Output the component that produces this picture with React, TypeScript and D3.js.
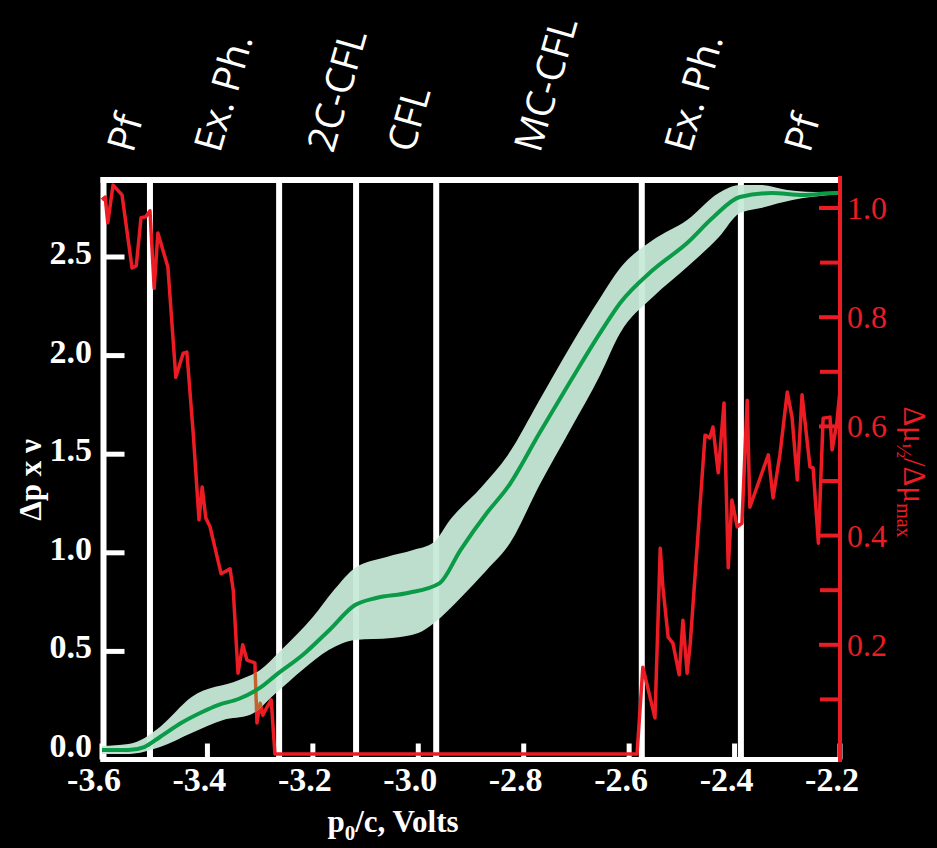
import React from "react";
import * as d3 from "d3";

// Axis ticks
const xTicks = [-3.6, -3.4, -3.2, -3.0, -2.8, -2.6, -2.4, -2.2];
const leftTicks = [0.0, 0.5, 1.0, 1.5, 2.0, 2.5];
const rightMajor = [0.2, 0.4, 0.6, 0.8, 1.0];
const rightMinor = [0.1, 0.3, 0.5, 0.7, 0.9];

// Phase boundaries and phase names
const boundaries = [-3.509, -3.264, -3.118, -2.966, -2.576, -2.388];
const phaseLabels = ["Pf", "Ex. Ph.", "2C-CFL", "CFL", "MC-CFL", "Ex. Ph.", "Pf"];
const phaseLabelX = [-3.541, -3.376, -3.162, -3.01, -2.769, -2.484, -2.257];

// Δp x ν : mean curve
const greenX = [-3.6, -3.55, -3.52, -3.49, -3.45, -3.41, -3.38, -3.34, -3.3, -3.27, -3.22, -3.17, -3.12, -3.08, -3.02, -2.96, -2.92, -2.87, -2.83, -2.77, -2.71, -2.655, -2.617, -2.555, -2.49, -2.44, -2.39, -2.33, -2.27, -2.21, -2.2];
const greenMid = [0.0, 0.0, 0.015, 0.066, 0.137, 0.193, 0.228, 0.26, 0.316, 0.38, 0.48, 0.605, 0.735, 0.771, 0.796, 0.845, 1.014, 1.202, 1.334, 1.608, 1.876, 2.115, 2.267, 2.434, 2.571, 2.703, 2.804, 2.824, 2.814, 2.824, 2.824];

// Δp x ν : uncertainty band edges
const upperX = [-3.6, -3.55, -3.52, -3.49, -3.43, -3.34, -3.3, -3.26, -3.2, -3.16, -3.12, -3.06, -3.01, -2.97, -2.94, -2.88, -2.83, -2.77, -2.71, -2.655, -2.617, -2.555, -2.49, -2.43, -2.39, -2.35, -2.3, -2.23, -2.2];
const upperY = [0.02, 0.03, 0.06, 0.117, 0.269, 0.355, 0.406, 0.507, 0.674, 0.811, 0.923, 0.979, 1.014, 1.055, 1.166, 1.334, 1.496, 1.775, 2.054, 2.292, 2.444, 2.586, 2.688, 2.825, 2.865, 2.865, 2.84, 2.829, 2.834];
const lowerX = [-3.6, -3.55, -3.49, -3.43, -3.37, -3.32, -3.27, -3.22, -3.17, -3.12, -3.05, -3.0, -2.97, -2.92, -2.87, -2.826, -2.77, -2.71, -2.655, -2.617, -2.555, -2.49, -2.43, -2.39, -2.35, -2.29, -2.22, -2.2];
const lowerY = [-0.02, -0.02, 0.015, 0.086, 0.152, 0.177, 0.289, 0.406, 0.507, 0.558, 0.568, 0.593, 0.644, 0.771, 0.913, 1.05, 1.344, 1.633, 1.902, 2.115, 2.297, 2.449, 2.6, 2.723, 2.749, 2.789, 2.814, 2.819];

// Δμ½/Δμmax (right axis)
const redX = [-3.6, -3.594, -3.589, -3.579, -3.562, -3.543, -3.535, -3.526, -3.517, -3.509, -3.501, -3.494, -3.475, -3.46, -3.446, -3.439, -3.427, -3.416, -3.41, -3.403, -3.395, -3.374, -3.357, -3.351, -3.342, -3.333, -3.325, -3.31, -3.306, -3.3, -3.295, -3.287, -3.279, -3.272, -2.585, -2.574, -2.551, -2.541, -2.536, -2.526, -2.517, -2.505, -2.498, -2.49, -2.484, -2.456, -2.447, -2.441, -2.431, -2.42, -2.412, -2.405, -2.395, -2.386, -2.376, -2.371, -2.336, -2.327, -2.314, -2.3, -2.291, -2.281, -2.272, -2.257, -2.251, -2.241, -2.232, -2.219, -2.215, -2.206, -2.2];
const redY = [1.015, 1.02, 0.973, 1.042, 1.024, 0.89, 0.894, 0.982, 0.984, 0.995, 0.853, 0.954, 0.892, 0.69, 0.734, 0.736, 0.588, 0.429, 0.489, 0.432, 0.416, 0.33, 0.339, 0.3, 0.148, 0.2, 0.172, 0.167, 0.057, 0.093, 0.071, 0.086, 0.099, 0.0, 0.0, 0.159, 0.066, 0.377, 0.306, 0.214, 0.203, 0.145, 0.245, 0.148, 0.203, 0.584, 0.579, 0.599, 0.515, 0.643, 0.341, 0.465, 0.416, 0.423, 0.648, 0.452, 0.548, 0.469, 0.548, 0.663, 0.617, 0.502, 0.658, 0.526, 0.524, 0.386, 0.615, 0.617, 0.557, 0.606, 0.667];

const W = 937;
const H = 848;
const RED = "#ec1c24";
const SERIF = "'Liberation Serif', 'Times New Roman', serif";
const SANS = "'Open Sans', 'Noto Sans', sans-serif";

export default function App() {
  const x = d3.scaleLinear().domain([-3.6, -2.2]).range([102, 840]);
  const yL = d3.scaleLinear().domain([0, 2.5]).range([750, 257]);
  const yR = d3.scaleLinear().domain([0, 1]).range([754, 208]);

  const top = 180;
  const bottom = 759.5;
  const left = 103.5;
  const right = 840;

  const redPts: [number, number][] = redX.map((v, i) => [x(v), yR(redY[i])]);
  const redPath = d3.line().curve(d3.curveLinear)(redPts) || "";

  const greenPts: [number, number][] = greenX.map((v, i) => [x(v), yL(greenMid[i])]);
  const greenPath = d3.line().curve(d3.curveMonotoneX)(greenPts) || "";

  // band outline: upper edge left-to-right, lower edge right-to-left
  const upPts: [number, number][] = upperX.map((v, i) => [x(v), yL(upperY[i])]);
  const loPts: [number, number][] = lowerX.map((v, i) => [x(v), yL(lowerY[i])]);
  const upPath = d3.line().curve(d3.curveMonotoneX)(upPts) || "";
  // monotone curve needs increasing x, so trace the lower edge mirrored and flip the x coordinates back
  const loMirror = d3.line().curve(d3.curveMonotoneX)(
    loPts.slice().reverse().map(([a, b]) => [-a, b]) as [number, number][]
  ) || "";
  const loPath = loMirror.replace(/(-?\d+\.?\d*(?:e-?\d+)?),(-?\d+\.?\d*(?:e-?\d+)?)/g, (_m, a, b) => `${-parseFloat(a)},${b}`);
  const bandPath = upPath + "L" + loPath.slice(1) + "Z";

  return (
    <div style={{ width: W, height: H, background: "#000" }}>
      <style>{`body{margin:0;background:#000;}`}</style>
      <svg width={W} height={H} style={{ display: "block" }}>
        <rect x={0} y={0} width={W} height={H} fill="#000" />
        <defs>
          <clipPath id="bandClip">
            <path d={bandPath} />
          </clipPath>
        </defs>

        {/* phase boundaries */}
        {boundaries.map((b, i) => (
          <line key={"b" + i} x1={x(b)} x2={x(b)} y1={top} y2={bottom} stroke="#fff" strokeWidth={6} />
        ))}

        {/* frame */}
        <line x1={left - 3} x2={right} y1={top} y2={top} stroke="#fff" strokeWidth={6} />
        <line x1={left - 3} x2={right} y1={bottom} y2={bottom} stroke="#fff" strokeWidth={5} />
        <line x1={left} x2={left} y1={top - 3} y2={bottom + 2.5} stroke="#fff" strokeWidth={6} />

        {/* bottom ticks */}
        {xTicks.map((t, i) => (
          <g key={"xt" + i}>
            <line x1={x(t)} x2={x(t)} y1={bottom} y2={bottom - 16} stroke="#fff" strokeWidth={5} />
            <text x={x(t) - 8} y={791} fill="#fff" fontFamily={SERIF} fontWeight="bold" fontSize={34} textAnchor="middle">
              {t.toFixed(1)}
            </text>
          </g>
        ))}

        {/* left ticks */}
        {leftTicks.map((t, i) => (
          <g key={"lt" + i}>
            <line x1={left} x2={left + 21} y1={yL(t)} y2={yL(t)} stroke="#fff" strokeWidth={5} />
            <text x={92} y={yL(t) + 7} fill="#fff" fontFamily={SERIF} fontWeight="bold" fontSize={34} textAnchor="end">
              {t.toFixed(1)}
            </text>
          </g>
        ))}

        {/* red data under the band */}
        <path d={redPath} fill="none" stroke={RED} strokeWidth={3.5} strokeLinejoin="round" />

        {/* band */}
        <path d={bandPath} fill="#c8ead8" fillOpacity={0.95} />
        <path d={redPath} clipPath="url(#bandClip)" fill="none" stroke="#c0642e" strokeWidth={3.5} strokeLinejoin="round" />

        {/* mean line */}
        <path d={greenPath} fill="none" stroke="#0b9a48" strokeWidth={4} />

        {/* right axis */}
        <line x1={right} x2={right} y1={top - 4} y2={bottom + 2.5} stroke={RED} strokeWidth={4} />
        {rightMinor.map((t, i) => (
          <line key={"rm" + i} x1={right - 20} x2={right} y1={yR(t)} y2={yR(t)} stroke={RED} strokeWidth={4} />
        ))}
        {rightMajor.map((t, i) => (
          <g key={"rM" + i}>
            <line x1={right - 21} x2={right} y1={yR(t)} y2={yR(t)} stroke={RED} strokeWidth={4} />
            <text x={847} y={yR(t) + 11} fill={RED} fontFamily={SERIF} fontSize={32}>
              {t.toFixed(1)}
            </text>
          </g>
        ))}

        {/* phase names */}
        {phaseLabels.map((p, i) => (
          <text
            key={"p" + i}
            transform={`translate(${x(phaseLabelX[i])},154) rotate(-74)`}
            fill="#fff"
            fontFamily={SANS}
            fontSize={39}
          >
            {p}
          </text>
        ))}

        {/* axis titles */}
        <text x={393} y={832} fill="#fff" fontFamily={SERIF} fontWeight="bold" fontSize={31} textAnchor="middle">
          p<tspan fontSize={21} dy={8}>0</tspan>
          <tspan dy={-8}>/c, Volts</tspan>
        </text>
        <text transform="translate(41,480) rotate(-90)" fill="#fff" fontFamily={SERIF} fontWeight="bold" fontSize={31} textAnchor="middle">
          Δp x ν
        </text>
        <text transform="translate(904,472) rotate(90)" fill={RED} fontFamily={SERIF} fontSize={31} textAnchor="middle">
          Δμ<tspan fontSize={20} dy={7}>½</tspan>
          <tspan dy={-7}>/Δμ</tspan>
          <tspan fontSize={20} dy={7}>max</tspan>
        </text>
      </svg>
    </div>
  );
}
